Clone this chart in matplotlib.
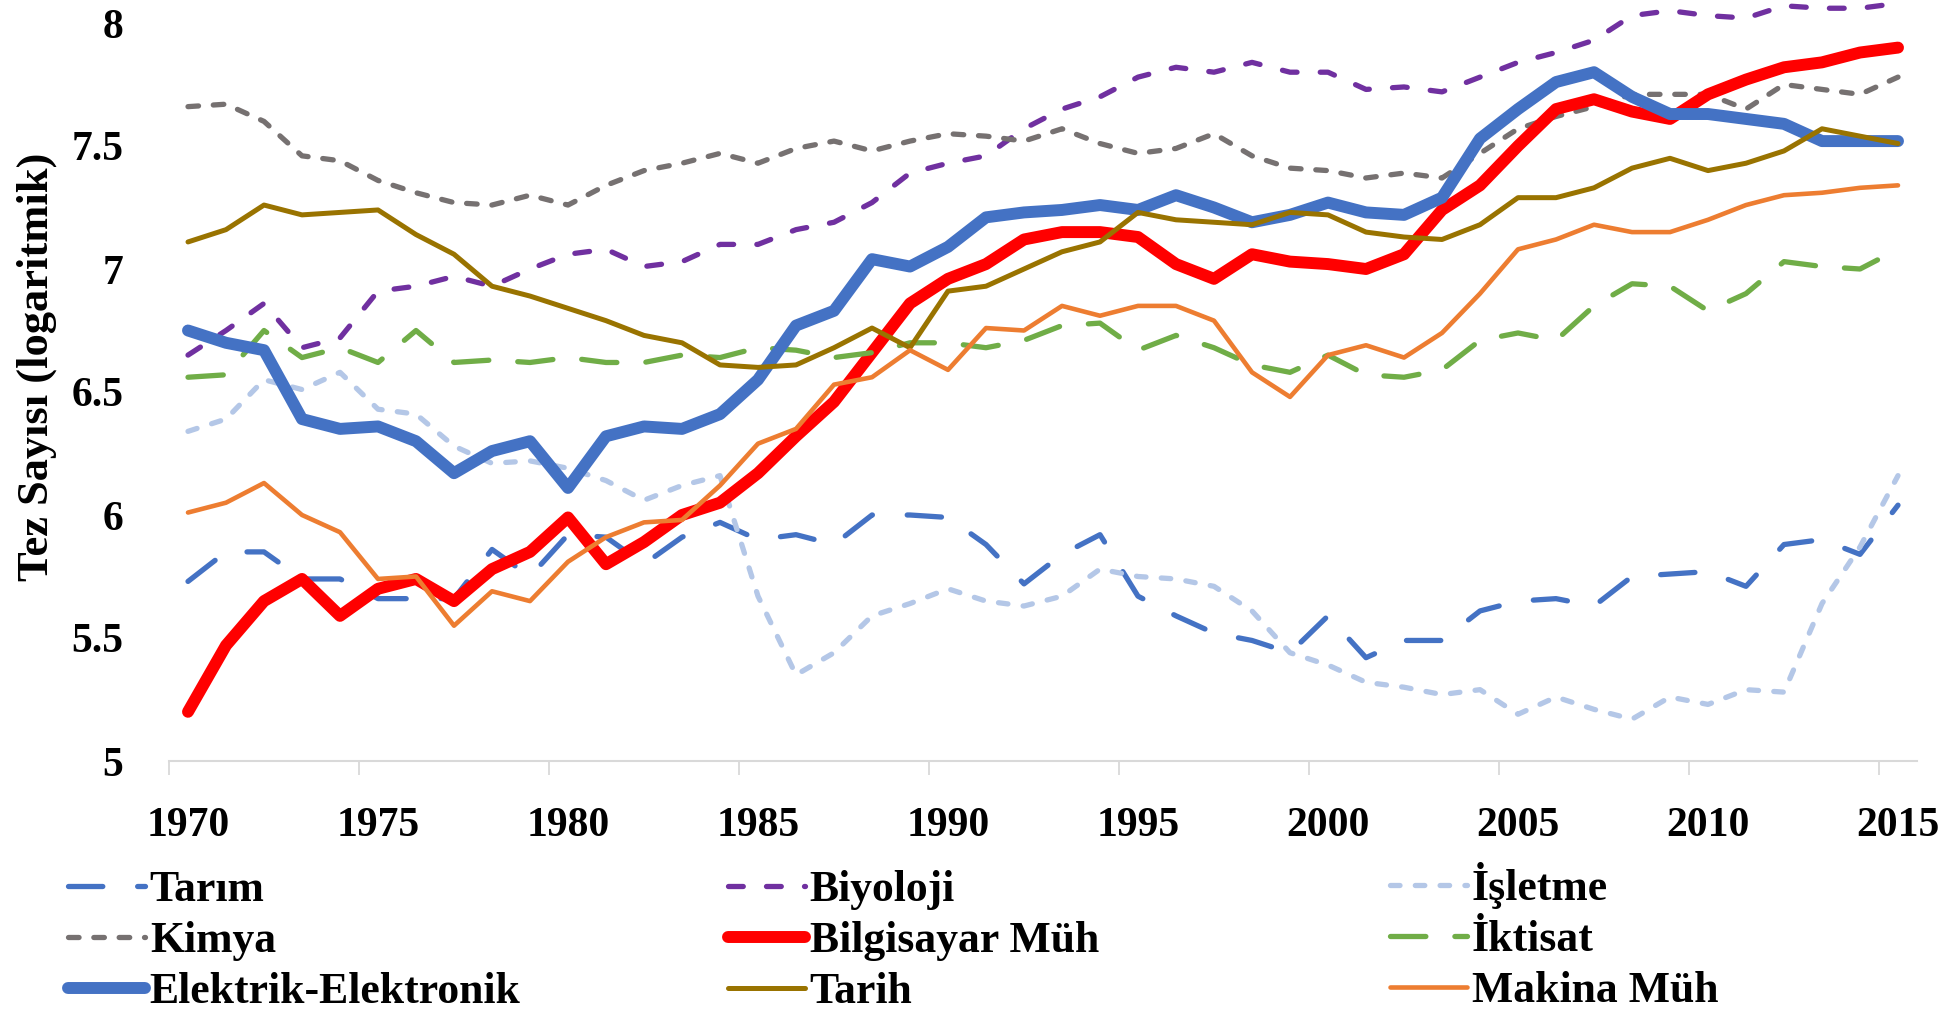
import matplotlib
matplotlib.use('Agg')
import matplotlib.pyplot as plt
from matplotlib.ticker import FixedLocator

plt.rcParams['font.family'] = ['Liberation Serif', 'DejaVu Serif']
plt.rcParams['font.weight'] = 'bold'

years = list(range(1970, 2016))
year_labels = [1970, 1975, 1980, 1985, 1990, 1995, 2000, 2005, 2010, 2015]
y_ticks = [5, 5.5, 6, 6.5, 7, 7.5, 8]
y_tick_labels = ['5', '5.5', '6', '6.5', '7', '7.5', '8']

tarim = [5.73, 5.85, 5.85, 5.74, 5.74, 5.66, 5.66, 5.66, 5.86, 5.75,
         5.92, 5.91, 5.80, 5.91, 5.97, 5.90, 5.92, 5.88, 6.00, 6.00,
         5.99, 5.88, 5.72, 5.84, 5.92, 5.67, 5.59, 5.52, 5.49, 5.44,
         5.59, 5.42, 5.49, 5.49, 5.61, 5.65, 5.66, 5.63, 5.75, 5.76,
         5.77, 5.71, 5.88, 5.90, 5.84, 6.04]
biyoloji = [6.65, 6.75, 6.86, 6.68, 6.72, 6.91, 6.93, 6.97, 6.93, 7.00,
            7.06, 7.08, 7.01, 7.03, 7.10, 7.10, 7.16, 7.19, 7.27, 7.39,
            7.43, 7.46, 7.57, 7.65, 7.70, 7.78, 7.82, 7.80, 7.84, 7.80,
            7.80, 7.73, 7.74, 7.72, 7.78, 7.84, 7.88, 7.93, 8.03, 8.05,
            8.03, 8.02, 8.07, 8.06, 8.06, 8.08]
isletme = [6.34, 6.39, 6.55, 6.51, 6.58, 6.43, 6.41, 6.28, 6.21, 6.22,
           6.19, 6.14, 6.06, 6.12, 6.16, 5.67, 5.35, 5.44, 5.59, 5.64,
           5.70, 5.65, 5.63, 5.67, 5.78, 5.75, 5.74, 5.71, 5.61, 5.44,
           5.39, 5.32, 5.30, 5.27, 5.29, 5.19, 5.26, 5.21, 5.17, 5.26,
           5.23, 5.29, 5.28, 5.64, 5.87, 6.16]
kimya = [7.66, 7.67, 7.60, 7.46, 7.44, 7.36, 7.31, 7.27, 7.26, 7.30,
         7.26, 7.34, 7.40, 7.43, 7.47, 7.43, 7.49, 7.52, 7.48, 7.52,
         7.55, 7.54, 7.52, 7.57, 7.51, 7.47, 7.49, 7.55, 7.46, 7.41,
         7.40, 7.37, 7.39, 7.37, 7.47, 7.57, 7.62, 7.66, 7.71, 7.71,
         7.71, 7.65, 7.75, 7.73, 7.71, 7.78]
bilgisayar = [5.20, 5.47, 5.65, 5.74, 5.59, 5.70, 5.74, 5.65, 5.78, 5.85,
              5.99, 5.80, 5.89, 6.00, 6.05, 6.17, 6.32, 6.46, 6.66, 6.86,
              6.96, 7.02, 7.12, 7.15, 7.15, 7.13, 7.02, 6.96, 7.06, 7.03,
              7.02, 7.00, 7.06, 7.24, 7.34, 7.50, 7.65, 7.69, 7.64, 7.61,
              7.71, 7.77, 7.82, 7.84, 7.88, 7.90]
iktisat = [6.56, 6.57, 6.75, 6.64, 6.68, 6.62, 6.75, 6.62, 6.63, 6.62,
           6.64, 6.62, 6.62, 6.65, 6.64, 6.68, 6.67, 6.64, 6.66, 6.70,
           6.70, 6.68, 6.71, 6.77, 6.78, 6.67, 6.73, 6.68, 6.61, 6.58,
           6.65, 6.57, 6.56, 6.59, 6.71, 6.74, 6.71, 6.85, 6.94, 6.93,
           6.83, 6.90, 7.03, 7.01, 7.00, 7.08]
elektrik = [6.75, 6.70, 6.67, 6.39, 6.35, 6.36, 6.30, 6.17, 6.26, 6.30,
            6.11, 6.32, 6.36, 6.35, 6.41, 6.55, 6.77, 6.83, 7.04, 7.01,
            7.09, 7.21, 7.23, 7.24, 7.26, 7.24, 7.30, 7.25, 7.19, 7.22,
            7.27, 7.23, 7.22, 7.29, 7.53, 7.65, 7.76, 7.80, 7.70, 7.63,
            7.63, 7.61, 7.59, 7.52, 7.52, 7.52]
tarih = [7.11, 7.16, 7.26, 7.22, 7.23, 7.24, 7.14, 7.06, 6.93, 6.89,
         6.84, 6.79, 6.73, 6.70, 6.61, 6.60, 6.61, 6.68, 6.76, 6.68,
         6.91, 6.93, 7.00, 7.07, 7.11, 7.23, 7.20, 7.19, 7.18, 7.23,
         7.22, 7.15, 7.13, 7.12, 7.18, 7.29, 7.29, 7.33, 7.41, 7.45,
         7.40, 7.43, 7.48, 7.57, 7.54, 7.51]
makina = [6.01, 6.05, 6.13, 6.00, 5.93, 5.74, 5.75, 5.55, 5.69, 5.65,
          5.81, 5.91, 5.97, 5.98, 6.12, 6.29, 6.35, 6.53, 6.56, 6.67,
          6.59, 6.76, 6.75, 6.85, 6.81, 6.85, 6.85, 6.79, 6.58, 6.48,
          6.65, 6.69, 6.64, 6.74, 6.90, 7.08, 7.12, 7.18, 7.15, 7.15,
          7.20, 7.26, 7.30, 7.31, 7.33, 7.34]

W, H = 1952, 1009
fig = plt.figure(figsize=(W / 100, H / 100), dpi=100)
ax_l, ax_r, ax_t, ax_b = 169, 1917, 23, 761
ax = fig.add_axes([ax_l / W, 1 - ax_b / H, (ax_r - ax_l) / W, (ax_b - ax_t) / H])

DLW = 3.8
specs = [
    ('Tarım', tarim, '#4472C4', DLW, (6.5, 3.3, 0.0, 3.3)),
    ('Biyoloji', biyoloji, '#7030A0', DLW, (2.8, 4.4)),
    ('İşletme', isletme, '#B4C7E7', DLW, (1.8, 2.9)),
    ('Kimya', kimya, '#767171', DLW, (2.0, 2.8)),
    ('Bilgisayar Müh', bilgisayar, '#FF0000', 8.6, None),
    ('İktisat', iktisat, '#70AD47', DLW, (6.7, 5.5)),
    ('Elektrik-Elektronik', elektrik, '#4472C4', 8.6, None),
    ('Tarih', tarih, '#997300', 3.6, None),
    ('Makina Müh', makina, '#ED7D31', 3.3, None),
]

handles = {}
for label, vals, color, lw, dash in specs:
    if dash is None:
        ln, = ax.plot(years, vals, color=color, lw=lw, solid_capstyle='round',
                      solid_joinstyle='round', label=label, clip_on=False)
    else:
        ln, = ax.plot(years, vals, color=color, lw=lw, dashes=dash,
                      dash_capstyle='round', dash_joinstyle='round',
                      label=label, clip_on=False)
    handles[label] = ln

ax.set_xlim(1969.5, 2015.5)
ax.set_ylim(5, 8)
for s in ['top', 'right', 'left']:
    ax.spines[s].set_visible(False)
ax.spines['bottom'].set_color('#D9D9D9')
ax.spines['bottom'].set_linewidth(1.5)

# tick marks between categories, labels at categories
ax.xaxis.set_major_locator(FixedLocator([y - 0.5 for y in year_labels]))
ax.xaxis.set_minor_locator(FixedLocator(year_labels))
ax.tick_params(axis='x', which='major', length=10, width=1.3, color='#D9D9D9',
               direction='out', labelbottom=False)
ax.tick_params(axis='x', which='minor', length=0, pad=33, labelsize=30)
ax.set_xticks(year_labels, minor=True)
ax.set_xticklabels([str(y) for y in year_labels], minor=True, fontweight='bold')

ax.set_yticks(y_ticks)
ax.set_yticklabels(y_tick_labels, fontweight='bold')
ax.tick_params(axis='y', length=0, pad=33, labelsize=30)

fig.text(37 / W, 1 - 367 / H, 'Tez Sayısı (logaritmik)', rotation=90,
         ha='center', va='center', fontsize=32, fontweight='bold')

cols = [['Tarım', 'Kimya', 'Elektrik-Elektronik'],
        ['Biyoloji', 'Bilgisayar Müh', 'Tarih'],
        ['İşletme', 'İktisat', 'Makina Müh']]
col_x = [68, 728, 1390]
col_top = [870, 870, 862]
for labs, cx, cy in zip(cols, col_x, col_top):
    fig.legend([handles[l] for l in labs], labs, loc='upper left',
               bbox_to_anchor=(cx / W, 1 - cy / H), frameon=False,
               borderpad=0, borderaxespad=0, labelspacing=0.25,
               handlelength=1.75, handletextpad=0.12,
               prop={'family': ['Liberation Serif', 'DejaVu Serif'],
                     'weight': 'bold', 'size': 31.5})

fig.savefig('out.png', dpi=100)
